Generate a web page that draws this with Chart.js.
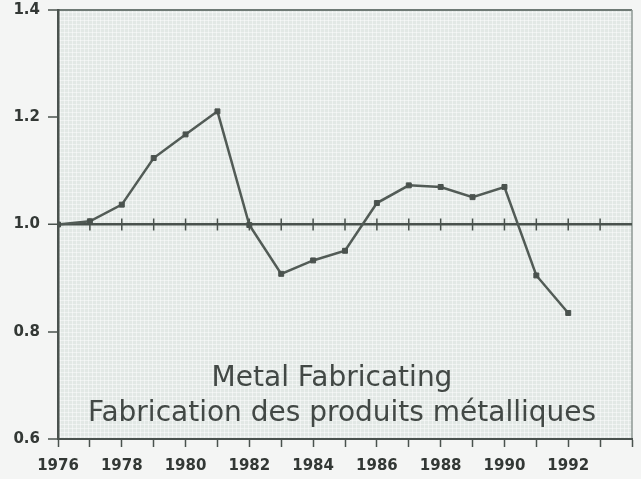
<!DOCTYPE html>
<html>
<head>
<meta charset="utf-8">
<script src="https://cdn.jsdelivr.net/npm/chart.js@4.4.0/dist/chart.umd.min.js"></script>
<style>
    html, body { margin: 0; padding: 0; background: #f4f5f4; }
</style>
</head>
<body>
<canvas id="myChart" width="641" height="479"></canvas>
<script>
// data
const years = [1976, 1977, 1978, 1979, 1980, 1981, 1982, 1983, 1984, 1985, 1986, 1987, 1988, 1989, 1990, 1991, 1992];
const values = [1.000, 1.006, 1.037, 1.124, 1.168, 1.211, 0.999, 0.908, 0.933, 0.951, 1.040, 1.073, 1.070, 1.051, 1.070, 0.905, 0.835];
const yTickLabels = ['0.6', '0.8', '1.0', '1.2', '1.4'];
const xTickLabels = ['1976', '1978', '1980', '1982', '1984', '1986', '1988', '1990', '1992'];
const titleLines = ['Metal Fabricating', 'Fabrication des produits métalliques'];

const ink = '#4a524e';

// paper background with a faint grid texture, plus top/right frame
const paper = {
    id: 'paper',
    beforeDraw(chart) {
        const ctx = chart.ctx;
        const a = chart.chartArea;
        ctx.save();
        ctx.fillStyle = '#f4f5f4';
        ctx.fillRect(0, 0, chart.width, chart.height);
        ctx.fillStyle = '#e2e8e5';
        ctx.fillRect(a.left, a.top, a.right - a.left, a.bottom - a.top);
        ctx.strokeStyle = 'rgba(255,255,255,0.45)';
        ctx.lineWidth = 1;
        ctx.beginPath();
        for (let x = a.left + 2; x < a.right; x += 4) {
            ctx.moveTo(x + 0.5, a.top);
            ctx.lineTo(x + 0.5, a.bottom);
        }
        for (let y = a.top + 2; y < a.bottom; y += 4) {
            ctx.moveTo(a.left, y + 0.5);
            ctx.lineTo(a.right, y + 0.5);
        }
        ctx.stroke();
        // top and right frame
        ctx.strokeStyle = '#6f7a75';
        ctx.lineWidth = 2;
        ctx.beginPath();
        ctx.moveTo(a.left, a.top);
        ctx.lineTo(a.right, a.top);
        ctx.stroke();
        ctx.strokeStyle = '#8f9894';
        ctx.lineWidth = 1.5;
        ctx.beginPath();
        ctx.moveTo(a.right, a.top);
        ctx.lineTo(a.right, a.bottom);
        ctx.stroke();
        ctx.restore();
    },
    beforeDatasetsDraw(chart) {
        // little year ticks crossing the 1.0 line
        const ctx = chart.ctx;
        const x = chart.scales.x;
        const y0 = chart.scales.y.getPixelForValue(1);
        ctx.save();
        ctx.strokeStyle = ink;
        ctx.lineWidth = 1.5;
        ctx.beginPath();
        x.ticks.forEach(t => {
            if (t.value <= x.min || t.value >= x.max) return;
            const px = x.getPixelForValue(t.value);
            ctx.moveTo(px, y0 - 6);
            ctx.lineTo(px, y0 + 6);
        });
        ctx.stroke();
        ctx.restore();
    },
    afterDatasetsDraw(chart) {
        const ctx = chart.ctx;
        ctx.save();
        ctx.fillStyle = '#424845';
        ctx.font = '28px "DejaVu Sans"';
        ctx.textAlign = 'center';
        ctx.textBaseline = 'alphabetic';
        ctx.fillText(titleLines[0], 332, 386);
        ctx.fillText(titleLines[1], 342, 421);
        ctx.restore();
    }
};

function createChart() {
    const ctx = document.getElementById('myChart').getContext('2d');
    return new Chart(ctx, {
        type: 'line',
        data: {
            labels: years,
            datasets: [{
                data: years.map((yr, i) => ({ x: yr, y: values[i] })),
                borderColor: '#525b56',
                borderWidth: 2.5,
                pointStyle: 'rect',
                pointRadius: 3.5,
                pointBackgroundColor: ink,
                pointBorderColor: ink,
                pointBorderWidth: 1,
                tension: 0,
                fill: false
            }]
        },
        options: {
            responsive: false,
            animation: false,
            layout: { padding: { top: 10, right: 9, left: 0, bottom: 0 } },
            plugins: {
                legend: { display: false },
                tooltip: { enabled: false },
                title: { display: false }
            },
            scales: {
                x: {
                    type: 'linear',
                    min: 1976,
                    max: 1994,
                    afterFit: s => { s.height = 40; s.paddingLeft = 0; s.paddingRight = 0; },
                    border: { display: true, color: ink, width: 2 },
                    grid: { drawOnChartArea: false, tickLength: 8, tickColor: ink, tickWidth: 1.5 },
                    ticks: {
                        stepSize: 1,
                        autoSkip: false,
                        maxRotation: 0,
                        padding: 10,
                        color: '#333835',
                        font: { family: 'DejaVu Sans', size: 15, weight: 'bold' },
                        callback: v => xTickLabels.includes(String(v)) ? String(v) : ''
                    }
                },
                y: {
                    min: 0.6,
                    max: 1.4,
                    afterFit: s => { s.width = 58; s.paddingTop = 0; s.paddingBottom = 0; },
                    afterBuildTicks: s => {
                        s.ticks = yTickLabels.map(t => ({ value: parseFloat(t) }));
                    },
                    border: { display: true, color: ink, width: 2.5 },
                    grid: {
                        tickLength: 10,
                        tickColor: ink,
                        tickWidth: 1.5,
                        color: c => (c.tick && Math.abs(c.tick.value - 1) < 1e-6) ? ink : 'rgba(0,0,0,0)',
                        lineWidth: c => (c.tick && Math.abs(c.tick.value - 1) < 1e-6) ? 2.5 : 0
                    },
                    ticks: {
                        padding: 8,
                        color: '#333835',
                        font: { family: 'DejaVu Sans', size: 15, weight: 'bold' },
                        callback: v => v.toFixed(1)
                    }
                }
            }
        },
        plugins: [paper]
    });
}

createChart();
</script>
</body>
</html>
